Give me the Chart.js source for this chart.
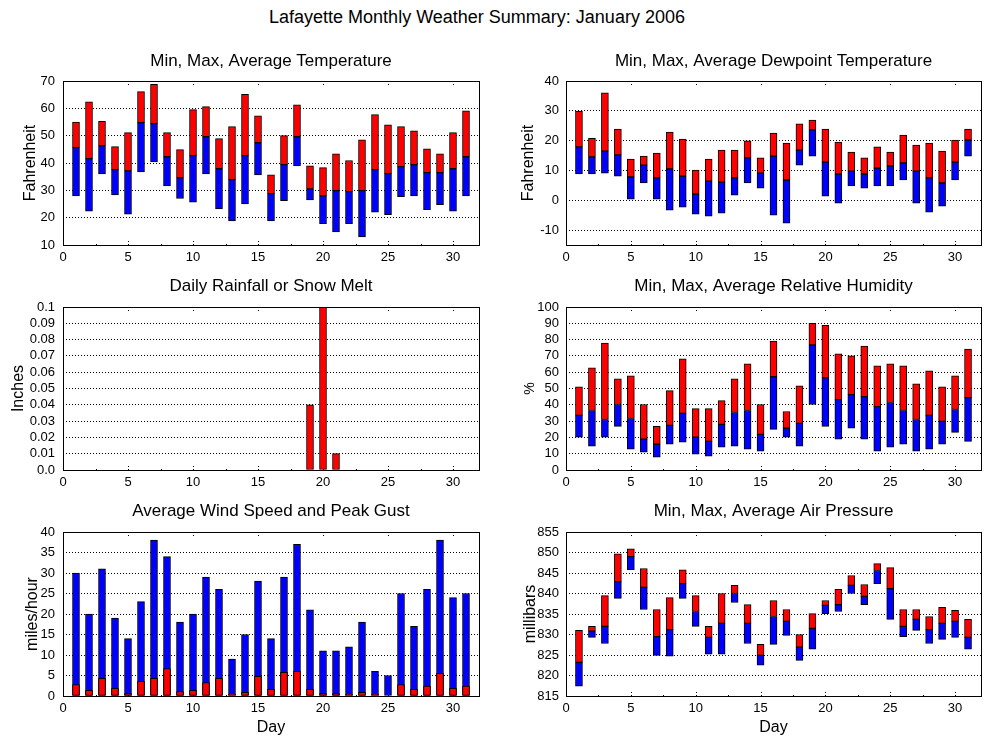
<!DOCTYPE html>
<html>
<head>
<meta charset="utf-8">
<script src="https://cdn.jsdelivr.net/npm/chart.js@4.4.0/dist/chart.umd.min.js"></script>
<style>
  html, body { margin: 0; padding: 0; background: #fff; }
  body { width: 1000px; height: 750px; position: relative; overflow: hidden; font-family: 'Liberation Sans', Arial, sans-serif; }
  canvas { position: absolute; }
  #mainTitle { position: absolute; left: 0; top: 7px; width: 954px; text-align: center; font-size: 18px; line-height: 20px; color: #000; }
</style>
</head>
<body>
<div id="mainTitle">Lafayette Monthly Weather Summary: January 2006</div>
<canvas id="c1" width="500" height="230" style="left:0;top:40px;width:500px;height:230px"></canvas>
<canvas id="c2" width="500" height="230" style="left:500px;top:40px;width:500px;height:230px"></canvas>
<canvas id="c3" width="500" height="230" style="left:0;top:270px;width:500px;height:230px"></canvas>
<canvas id="c4" width="500" height="230" style="left:500px;top:270px;width:500px;height:230px"></canvas>
<canvas id="c5" width="500" height="250" style="left:0;top:500px;width:500px;height:250px"></canvas>
<canvas id="c6" width="500" height="250" style="left:500px;top:500px;width:500px;height:250px"></canvas>
<script>
// ---------------- DATA ----------------
const days = [1,2,3,4,5,6,7,8,9,10,11,12,13,14,15,16,17,18,19,20,21,22,23,24,25,26,27,28,29,30,31];

const tempMax = [55,62.4,55.2,46,51.1,66.1,68.8,51.1,44.9,59.5,60.6,48.9,53.3,65.1,57.3,35.7,50,61.3,39,38.3,43.4,40.9,48.5,57.7,54,53.3,51.8,45.2,43.4,51.1,59.1];
const tempAvg = [45.6,41.6,46.3,37.6,37.1,54.8,54.4,42.3,34.6,42.7,49.6,37.9,33.9,42.7,47.4,28.8,39.4,49.6,30.5,28,29.9,29.5,29.9,37.6,36.1,38.7,39.4,36.5,36.5,37.9,42.3];
const tempMin = [28,22.4,36,28.3,21.3,36.7,40.4,31.6,27,25.7,36,23.2,18.8,25,35.6,18.8,26.2,38.9,26.5,17.8,14.8,17.8,13,22,21.1,27.7,28,22.9,24.8,22.4,28];

const dewMax = [29.9,20.8,36,23.9,13.8,14.8,15.8,22.9,20.5,10.1,13.8,16.8,16.8,19.9,14.2,22.5,19.2,25.6,26.9,23.9,19.5,16.2,14.2,17.9,16.2,21.9,18.5,19.2,16.5,20.2,23.9];
const dewAvg = [17.9,14.5,16.5,15.2,7.8,11.8,7.5,10.5,8.1,2.1,6.4,6.1,7.5,14.2,9.1,14.8,6.8,16.8,23.6,12.8,8.8,9.8,8.8,10.8,11.5,12.5,9.8,7.5,5.8,12.8,20.2];
const dewMin = [8.8,8.8,9.1,8.1,0.4,5.8,0.4,-3.3,-2.3,-4.7,-5.3,-4.3,1.7,5.8,4.1,-5,-7.7,11.8,14.8,1.4,-1,4.8,4.1,4.8,4.8,6.8,-1,-4,-2,6.8,14.8];

const rain = [0,0,0,0,0,0,0,0,0,0,0,0,0,0,0,0,0,0,0.04,0.10,0.01,0,0,0,0,0,0,0,0,0,0];

const rhMax = [51.1,62.7,77.9,56,57.8,40.2,26.8,48.7,68.2,37.7,37.7,42.6,56,65.1,40.2,79.1,35.9,51.7,90,88.8,71.2,70,76.1,63.9,65.1,63.9,52.9,60.9,51.1,57.8,74.2];
const rhAvg = [33.5,36.5,31,40.2,31.6,18.9,15.8,27.4,34.7,20.1,17.6,28,35.3,36.5,21.9,57.2,25.6,28.6,76.7,56.6,43.2,46.2,45,38.9,41.4,36.5,31,33.5,29.8,37.1,44.4];
const rhMin = [20.1,14.6,20.1,26.8,12.8,11,7.9,15.8,17,9.7,8.5,14,14.6,12.8,11.6,24.9,20.1,14.6,40.2,26.8,18.9,25.6,18.9,11.6,14,15.8,11.6,12.8,15.8,23.1,17.6];

const windGust = [30,20,31,19,14,23,38,34,18,20,29,26,9,15,28,14,29,37,21,11,11,12,18,6,5,25,17,26,38,24,25];
const windAvg = [2.8,1.4,4.3,1.9,0.6,3.6,4.3,6.7,1.1,1.4,3.3,4.3,0.4,0.9,4.8,1.6,5.8,6,1.6,0.6,0.6,0.4,0.9,0.4,0,2.8,1.6,2.4,5.5,1.9,2.4];

const presMax = [831,832,839.5,849.7,850.9,846.1,836.1,839,845.8,839.5,832,840,842,837.3,827.6,838.3,836.1,830,835.1,838.3,841,844.4,842.2,847.3,846.3,836.1,836.1,834.4,836.6,835.9,833.7];
const presAvg = [823.2,830.8,832,842.9,849,841.5,829.5,831.2,842.4,835.6,829.3,832.7,840,832.7,824.9,834.4,833.2,826.9,831.5,837.1,837.3,842,839.3,845.6,841.2,832,833.7,831.2,832.7,833.2,829.3];
const presMin = [817.4,829.3,827.8,838.8,845.8,836.1,824.9,824.7,838.8,832,825.2,825.2,837.8,827.8,822.5,827.6,829.8,823.7,826.4,835.1,835.6,840,837.3,842.4,833.7,829.5,831,827.8,828.8,829.3,826.4];

// ---------------- RENDERING ----------------
Chart.defaults.font.family = "'Liberation Sans', Arial, sans-serif";
Chart.defaults.color = '#000';

const RED = '#ff0000', BLUE = '#0000ff';

const framePlugin = {
  id: 'gnuFrame',
  beforeDatasetsDraw(chart) {
    const ctx = chart.ctx, a = chart.chartArea, xs = chart.scales.x;
    ctx.save();
    ctx.strokeStyle = '#000';
    ctx.lineWidth = 1;
    ctx.setLineDash([1, 2]);
    const top = Math.round(a.top), bot = Math.round(a.bottom);
    xs.ticks.forEach(t => {
      const v = t.value;
      const marks = [[v, 6]];
      if (v + 2.5 < xs.max) marks.push([v + 2.5, 3]);
      marks.forEach(([mv, len]) => {
        if (mv <= xs.min) return;
        const px = Math.round(xs.getPixelForValue(mv)) + 0.5;
        ctx.beginPath();
        ctx.moveTo(px, bot); ctx.lineTo(px, bot - len);
        ctx.moveTo(px, top); ctx.lineTo(px, top + len);
        ctx.stroke();
      });
    });
    ctx.restore();
  },
  afterDatasetsDraw(chart) {
    const ctx = chart.ctx, a = chart.chartArea;
    ctx.save();
    ctx.strokeStyle = '#000';
    ctx.lineWidth = 1;
    ctx.setLineDash([]);
    const l = Math.round(a.left) + 0.5, t = Math.round(a.top) + 0.5;
    const r = Math.round(a.right) + 0.5, b = Math.round(a.bottom) + 0.5;
    ctx.strokeRect(l, t, r - l, b - t);
    ctx.restore();
  }
};

function floatSeries(lo, hi, color) {
  return {
    data: days.map((d, i) => ({ x: d, y: [lo[i], hi[i]] })),
    backgroundColor: color,
    borderColor: '#000',
    borderWidth: 1,
    borderSkipped: false,
    barThickness: 7,
    grouped: false
  };
}
function plainSeries(vals, color) {
  return {
    data: days.map((d, i) => ({ x: d, y: vals[i] })),
    backgroundColor: color,
    borderColor: '#000',
    borderWidth: 1,
    borderSkipped: false,
    barThickness: 7,
    grouped: false
  };
}

function makeChart(id, o) {
  new Chart(document.getElementById(id), {
    type: 'bar',
    data: { datasets: o.datasets },
    plugins: [framePlugin],
    options: {
      responsive: false,
      animation: false,
      devicePixelRatio: 1,
      layout: { padding: { left: 0, right: o.padRight, top: 0, bottom: 0 } },
      plugins: {
        legend: { display: false },
        tooltip: { enabled: false },
        title: {
          display: true,
          text: o.title,
          fullSize: false,
          font: { size: 17, weight: 'normal' },
          color: '#000',
          padding: { top: o.titlePad[0], bottom: o.titlePad[1] }
        }
      },
      scales: {
        x: {
          type: 'linear',
          min: 0, max: 32,
          offset: false,
          grid: { display: false, drawTicks: false },
          border: { display: false },
          ticks: { stepSize: 5, includeBounds: false, autoSkip: false, maxRotation: 0, padding: 5, font: { size: 13 }, color: '#000' },
          title: o.xTitle ? { display: true, text: o.xTitle, font: { size: 16 }, color: '#000', padding: { top: 0, bottom: 12.7 } } : { display: false },
          afterFit: s => { s.height = o.xHeight; }
        },
        y: {
          type: 'linear',
          min: o.yMin, max: o.yMax,
          grid: {
            drawTicks: false,
            lineWidth: 1,
            color: c => (c.tick && (c.tick.value === o.yMin || c.tick.value === o.yMax)) ? 'rgba(0,0,0,0)' : '#000'
          },
          border: { display: false, dash: [1, 2] },
          ticks: {
            stepSize: o.yStep, includeBounds: false, autoSkip: false, padding: o.yTickPad,
            font: { size: 13 }, color: '#000',
            callback: o.yCb || (v => String(v))
          },
          title: { display: true, text: o.yTitle, font: { size: o.yTitleSize || 16 }, color: '#000', padding: { top: o.yTitlePad, bottom: 0 } },
          afterFit: s => { s.width = o.yWidth; }
        }
      }
    }
  });
}

// Row 1
makeChart('c1', {
  title: 'Min, Max, Average Temperature', titlePad: [11.5, 9.1],
  yTitle: 'Fahrenheit', yTitlePad: 21, yMin: 10, yMax: 70, yStep: 10,
  yWidth: 63, yTickPad: 8, xHeight: 25, padRight: 21,
  datasets: [floatSeries(tempAvg, tempMax, RED), floatSeries(tempMin, tempAvg, BLUE)]
});
makeChart('c2', {
  title: 'Min, Max, Average Dewpoint Temperature', titlePad: [11.5, 9.1],
  yTitle: 'Fahrenheit', yTitlePad: 19, yMin: -15, yMax: 40, yStep: 10,
  yWidth: 66, yTickPad: 7, xHeight: 25, padRight: 19,
  datasets: [floatSeries(dewAvg, dewMax, RED), floatSeries(dewMin, dewAvg, BLUE)]
});
// Row 2
makeChart('c3', {
  title: 'Daily Rainfall or Snow Melt', titlePad: [6.5, 10.1],
  yTitle: 'Inches', yTitlePad: 9, yMin: 0, yMax: 0.1, yStep: 0.01,
  yCb: v => (Math.abs(v) < 1e-9 ? '0.0' : String(+v.toFixed(2))),
  yWidth: 63, yTickPad: 8, xHeight: 30, padRight: 21,
  datasets: [plainSeries(rain, RED)]
});
makeChart('c4', {
  title: 'Min, Max, Average Relative Humidity', titlePad: [6.5, 10.1],
  yTitle: '%', yTitleSize: 14, yTitlePad: 22, yMin: 0, yMax: 100, yStep: 10,
  yWidth: 66, yTickPad: 7, xHeight: 30, padRight: 19,
  datasets: [floatSeries(rhAvg, rhMax, RED), floatSeries(rhMin, rhAvg, BLUE)]
});
// Row 3
makeChart('c5', {
  title: 'Average Wind Speed and Peak Gust', titlePad: [1.5, 10.1],
  yTitle: 'miles/hour', yTitlePad: 23, yMin: 0, yMax: 40, yStep: 5,
  yWidth: 63, yTickPad: 8, xHeight: 54, padRight: 21, xTitle: 'Day',
  datasets: [plainSeries(windAvg, RED), plainSeries(windGust, BLUE)]
});
makeChart('c6', {
  title: 'Min, Max, Average Air Pressure', titlePad: [1.5, 10.1],
  yTitle: 'millibars', yTitlePad: 21, yMin: 815, yMax: 855, yStep: 5,
  yWidth: 66, yTickPad: 7, xHeight: 54, padRight: 19, xTitle: 'Day',
  datasets: [floatSeries(presAvg, presMax, RED), floatSeries(presMin, presAvg, BLUE)]
});
</script>
</body>
</html>
